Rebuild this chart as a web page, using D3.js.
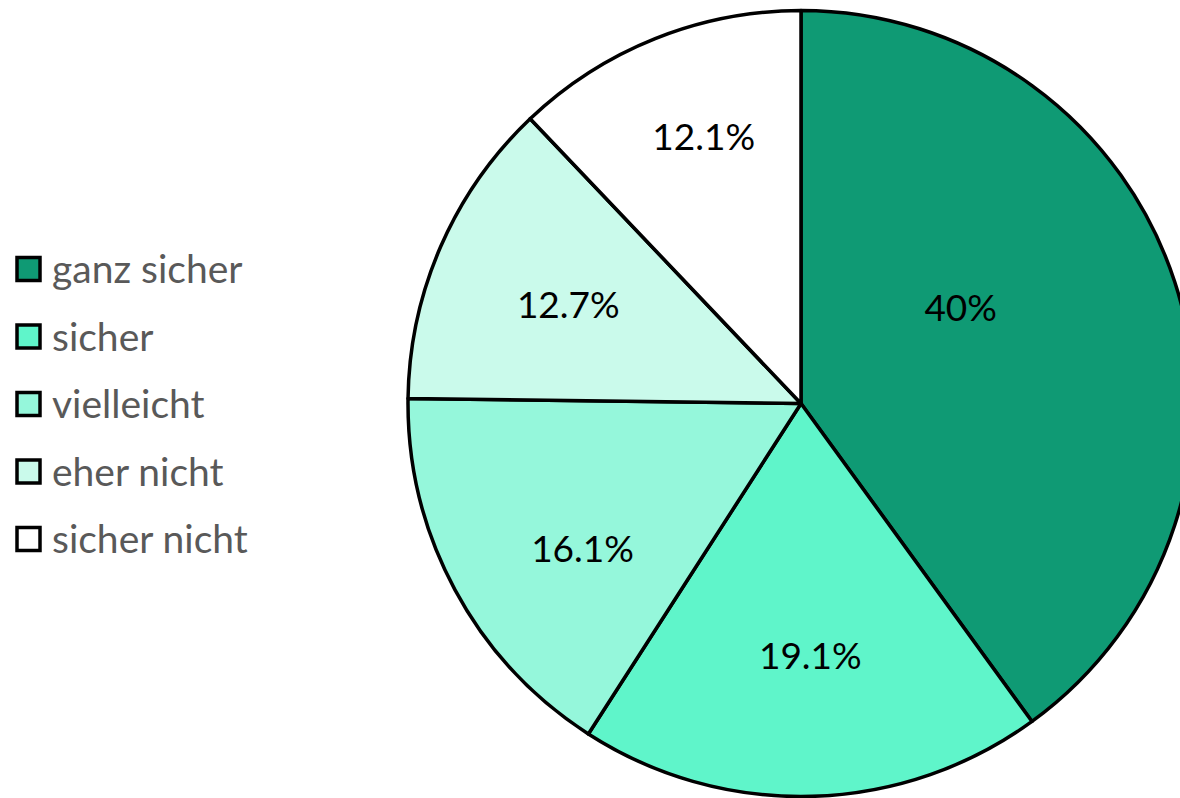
<!DOCTYPE html>
<html>
<head>
<meta charset="utf-8">
<script src="https://cdn.jsdelivr.net/npm/d3@7"></script>
<style>
  body { margin: 0; background: #fff; }
  svg { display: block; }
</style>
</head>
<body>
<div id="chart"></div>
<script>
// data
const categories = ["ganz sicher", "sicher", "vielleicht", "eher nicht", "sicher nicht"];
const shares = [40, 19.1, 16.1, 12.7, 12.1];
const labels = ["40%", "19.1%", "16.1%", "12.7%", "12.1%"];
const colors = ["#0f9a74", "#5ff5ca", "#95f7db", "#cafaeb", "#ffffff"];

const width = 1180, height = 798;
const cx = 801, cy = 403.5, radius = 393;
// Excel places its labels a bit off the centroid, small nudges per slice
const labelNudge = [[-87, -16], [2, -7], [10, 22], [5, 5], [-1, -26]];

const svg = d3.select("#chart").append("svg")
    .attr("width", width).attr("height", height);

const pie = d3.pie().sort(null).value(d => d);
const arcs = pie(shares);

const arc = d3.arc().innerRadius(0).outerRadius(radius);
const labelArc = d3.arc().innerRadius(radius*0.66).outerRadius(radius*0.66);

let g = svg.append("g").attr("transform", "translate(" + cx + "," + cy + ")");

g.selectAll("path.slice")
    .data(arcs)
  .enter().append("path")
    .attr("class", "slice")
    .attr("d", arc)
    .attr("fill", (d, i) => colors[i])
    .attr("stroke", "#000")
    .attr("stroke-width", 3.5)
    .attr("stroke-linejoin", "round");

g.selectAll("text.lbl")
    .data(arcs)
  .enter().append("text")
    .attr("class", "lbl")
    .attr("transform", (d, i) => {
      const c = labelArc.centroid(d);
      return "translate(" + (c[0] + labelNudge[i][0]) + "," + (c[1] + labelNudge[i][1]) + ")";
    })
    .attr("text-anchor", "middle")
    .attr("dy", "0.36em")
    .attr("font-family", "Lato, 'Open Sans', sans-serif")
    .attr("font-size", 37)
    .attr("fill", "#000")
    .text((d, i) => labels[i]);

// legend
const legY = d3.scalePoint().domain(categories).range([269, 539]);

let leg = svg.append("g");
let item = leg.selectAll("g.item")
    .data(categories)
  .enter().append("g")
    .attr("class", "item")
    .attr("transform", d => "translate(0," + legY(d) + ")");

item.append("rect")
    .attr("x", 17).attr("y", -11.5)
    .attr("width", 23).attr("height", 23)
    .attr("fill", (d, i) => colors[i])
    .attr("stroke", "#000")
    .attr("stroke-width", 3.5);

item.append("text")
    .attr("x", 52)
    .attr("dy", "0.36em")
    .attr("font-family", "Lato, 'Open Sans', sans-serif")
    .attr("font-size", 39)
    .attr("fill", "#595959")
    .text(d => d);
</script>
</body>
</html>
